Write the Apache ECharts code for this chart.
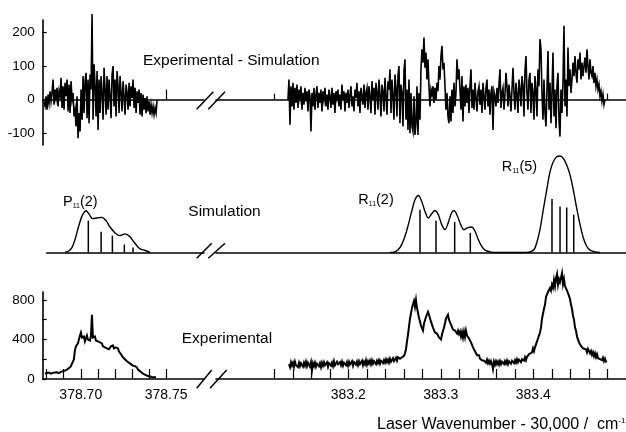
<!DOCTYPE html>
<html>
<head>
<meta charset="utf-8">
<script src="https://cdn.jsdelivr.net/npm/echarts@6/dist/echarts.min.js"></script>
<style>
  html, body { margin: 0; padding: 0; background: #fff; }
  #chart { width: 626px; height: 432px; }
</style>
</head>
<body>
<div id="chart"></div>
<script>
// ---- Wavenumber windows (laser wavenumber - 30,000 cm^-1) ----
const leftWindow = [378.6777, 378.7722];
const midLeftWindow = [378.68, 378.7722];
const rightWindow = [383.057, 383.5002];

// ---- Tick marks and labels ----
const leftTicks = [378.68, 378.69, 378.70, 378.71, 378.72, 378.73, 378.74, 378.75];
const leftLabels = [378.70, 378.75];
const rightTicks = [383.12, 383.14, 383.16, 383.18, 383.20, 383.22, 383.24, 383.26, 383.28, 383.30,
                    383.32, 383.34, 383.36, 383.38, 383.40, 383.42, 383.44, 383.46, 383.48];
const rightLabels = [383.2, 383.3, 383.4];
const residualTicks = [-100, 0, 100, 200];
const intensityTicks = [0, 200, 400, 600, 800];
const intensityLabels = [0, 400, 800];

// ---- Experimental - Simulation (residual), sampled on a uniform grid ----
const resLeftStart = 378.6779, resLeftStep = 0.000586;
const resLeft = [
  0, 5, -20, 10, -30, 15, -10, 25, -5, 20,
  60, -15, 30, 5, 35, -20, 25, 10, 65, -25,
  40, -30, 50, 10, 60, -35, 45, -40, 55, 0,
  20, -50, -30, -80, 10, -115, -40, -95, 30, -60,
  70, -40, 55, 80, -55, 60, -70, 75, 30, 255,
  -60, 105, 40, -50, 85, -90, 60, -40, 70, 20,
  -60, 95, 30, -45, 70, -30, 60, 10, -55, 75,
  100, -20, 60, -50, 85, 40, -40, 70, 20, -35,
  55, 10, -45, 45, 20, -30, 50, -20, 40, 5,
  60, -25, 35, -40, 25, -10, 30, -45, 20, -50,
  15, -30, 5, -40, 10, -35, -5, -45, -15, -40,
  -20, -45, -25, -40, 0
];
const resRightStart = 383.1348, resRightStep = 0.001081;
const resRight = [
  0, 60, -75, 40, -20, 50, -30, 35, -10, 45,
  -25, 30, 5, 40, -30, 20, -15, 35, -5, 25,
  -35, 30, 10, -95, 20, -20, 35, -30, 15, 40,
  -25, 20, -10, 30, -35, 25, 0, 35, -20, 15,
  -30, 30, 10, -25, 35, -15, 20, -40, 25, 5,
  30, -20, 15, -30, 45, 0, 25, -35, 20, -10,
  30, -25, 15, 40, -20, 10, -35, 30, 5, 50,
  -20, 25, -40, 35, 10, -15, 45, -25, 20, 35,
  -30, 40, 10, -40, 55, 0, 35, -45, 50, 20,
  -30, 60, 15, -50, 45, 25, -35, 65, 10, -45,
  55, 30, 90, -40, 60, 10, -60, 75, 35, -50,
  70, 100, -70, 45, 20, -80, 85, 120, -60, 30,
  -90, 60, -100, 20, -80, -95, 10, -105, -70, 40,
  -105, 20, -60, 90, 150, 110, 185, 95, 140, 60,
  120, 40, -20, 30, 15, 40, -10, 35, 0, 50,
  25, 100, 60, 130, 160, 90, 110, 40, -30, 20,
  -50, -70, 10, -65, 30, -40, 50, -20, 20, 120,
  60, 90, 30, -30, 70, -65, 40, -20, 45, -10,
  35, -40, 40, 90, -25, 30, -30, 50, 5, -35,
  25, 40, -15, 30, -40, 50, 10, -30, 35, 60,
  -20, 30, -45, 20, 40, -90, 25, 10, -20, 35,
  -10, 45, 90, -25, 20, 35, -30, 15, 80, 40,
  -20, 45, 10, -35, 30, 95, 20, -30, 50, 15,
  -40, 60, 30, -20, 70, 40, -50, 85, 130, 20,
  -30, 60, 80, -40, 50, 20, -60, 70, 30, -50,
  90, 40, 180, 150, 20, -60, 60, -40, -80, 30,
  145, -30, 50, -70, 20, 140, -50, 30, -85, 40,
  80, -60, -110, 30, -40, 50, 220, -20, 60, -50,
  155, 40, 90, 20, 60, 110, 70, 130, 80, 50,
  120, 90, 140, 60, 110, 70, 100, 125, 80, 150,
  100, 60, 120, 80, 70, 100, 50, 80, 40, 60,
  30, 45, 10, 25, -5, 15, -15, 0
];

// ---- Simulated contours and stick spectra ----
const simLeftX = [378.6908, 378.6927, 378.6947, 378.6966, 378.6982, 378.6996, 378.7011, 378.7031,
                  378.7050, 378.7070, 378.7094, 378.7123, 378.7148, 378.7171, 378.7201, 378.7230,
                  378.7259, 378.7289, 378.7308, 378.7328, 378.7347, 378.7377, 378.7406];
const simLeftY = [0, 1.3, 4.8, 13.4, 23.7, 32.3, 39.2, 43.3,
                  39.2, 35.1, 35.8, 36.4, 33, 26.5, 20.3, 17.5,
                  19.3, 16.2, 11.6, 7.2, 3.8, 2.1, 0];
const p2StickX = [378.7044, 378.7119, 378.7185, 378.7255, 378.7306];
const p2StickY = [33, 21.6, 17.5, 8.2, 5.2];

const simRightX = [383.2450, 383.2505, 383.2541, 383.2577, 383.2613, 383.2649, 383.2685, 383.2721,
                   383.2757, 383.2794, 383.2829, 383.2865, 383.2902, 383.2937, 383.2973, 383.3010,
                   383.3045, 383.3081, 383.3118, 383.3143, 383.3178, 383.3215, 383.3251, 383.3286,
                   383.3334, 383.3370, 383.3405, 383.3442, 383.3478, 383.3532, 383.3600,
                   383.3920, 383.3964, 383.4008, 383.4037, 383.4072, 383.4108, 383.4145, 383.4181,
                   383.4216, 383.4253, 383.4289, 383.4324, 383.4361, 383.4397, 383.4432, 383.4469,
                   383.4505, 383.4541, 383.4577, 383.4613, 383.4667, 383.4720];
const simRightY = [0, 0.7, 3.1, 8.2, 16.8, 28.9, 42.6, 54.6,
                   59.1, 52.9, 42.6, 35.8, 40.2, 43.6, 39.2, 28.9,
                   23.7, 31.2, 41.5, 43.3, 38.1, 28.9, 23.7, 25.5,
                   26.5, 22, 13.4, 6.5, 2.4, 0.7, 0,
                   0, 0.5, 3.1, 10, 23.7, 44.3, 64.9, 83.8,
                   94.1, 99.3, 100, 97.6, 90.7, 80.4, 64.9, 46.1,
                   28.9, 15.1, 6.5, 2.4, 0.7, 0];
const r2StickX = [383.2775, 383.2948, 383.3150, 383.3319];
const r2StickY = [44.3, 33, 31.6, 20.3];
const r5StickX = [383.4202, 383.4289, 383.4361, 383.4437];
const r5StickY = [55.4, 47.7, 46.7, 39.2];

// ---- Experimental spectrum, sampled on a uniform grid ----
const expLeftStart = 378.6790, expLeftStep = 0.000586;
const expLeft = [
  55, 35, 60, 40, 65, 45, 55, 40, 62, 42,
  65, 45, 68, 48, 60, 58, 72, 55, 80, 62,
  85, 70, 95, 80, 110, 100, 130, 125, 175, 200,
  290, 330, 320, 360, 380, 440, 470, 420, 400, 430,
  380, 410, 440, 400, 420, 390, 430, 650, 420, 400,
  430, 390, 410, 380, 400, 370, 350, 360, 330, 340,
  320, 300, 310, 290, 300, 310, 330, 320, 340, 310,
  330, 320, 300, 310, 280, 265, 250, 235, 220, 210,
  200, 190, 180, 175, 165, 160, 150, 145, 135, 130,
  130, 110, 118, 95, 100, 80, 88, 62, 72, 50,
  58, 40, 48, 30, 44, 25, 38, 20, 35, 18,
  30, 20
];
const expRightStart = 383.1359, expRightStep = 0.001081;
const expRight = [
  150, 120, 170, 135, 165, 125, 175, 140, 160, 120,
  165, 130, 160, 170, 125, 165, 135, 175, 130, 165,
  145, 125, 170, 90, 160, 130, 165, 125, 155, 170,
  130, 160, 120, 165, 135, 170, 140, 130, 170, 125,
  160, 170, 135, 165, 130, 180, 140, 135, 175, 150,
  130, 170, 140, 175, 135, 165, 175, 140, 170, 135,
  175, 145, 160, 180, 135, 170, 180, 145, 175, 140,
  180, 150, 165, 185, 140, 175, 150, 190, 145, 180,
  155, 185, 150, 190, 155, 180, 195, 150, 185, 160,
  190, 155, 185, 200, 160, 190, 165, 200, 170, 195,
  165, 205, 175, 190, 210, 180, 195, 215, 185, 220,
  215, 205, 225, 220, 240, 235, 260, 300, 380, 450,
  530, 610, 630, 720, 720, 790, 730, 800, 720, 720,
  620, 610, 540, 550, 490, 560, 560, 630, 620, 680,
  650, 660, 580, 580, 520, 540, 470, 490, 460, 470,
  420, 440, 400, 450, 450, 520, 520, 610, 590, 650,
  600, 620, 550, 560, 500, 520, 490, 510, 460, 490,
  455, 480, 430, 475, 420, 480, 425, 490, 440, 455,
  410, 410, 370, 360, 320, 320, 280, 280, 240, 250,
  240, 205, 220, 190, 200, 185, 190, 165, 195, 160,
  185, 155, 180, 150, 100, 175, 145, 180, 150, 175,
  145, 180, 150, 175, 185, 150, 180, 155, 185, 150,
  180, 190, 155, 185, 195, 160, 190, 165, 200, 170,
  195, 205, 170, 200, 215, 185, 220, 190, 225, 220,
  250, 250, 265, 270, 310, 280, 320, 330, 380, 400,
  440, 470, 520, 610, 630, 710, 750, 830, 830, 880,
  860, 920, 895, 955, 925, 1000, 940, 1020, 1060, 955,
  1010, 980, 980, 1070, 960, 1010, 940, 955, 895, 910,
  840, 810, 750, 710, 640, 600, 520, 490, 430, 420,
  370, 370, 335, 340, 310, 310, 300, 300, 270, 305,
  285, 260, 283, 245, 270, 230, 260, 220, 250, 210,
  225, 200, 216, 190, 215, 180, 205, 175, 180
];

// ---- helpers to turn the arrays into series data ----
function sampled(start, step, values) {
  return values.map((v, i) => [+(start + i * step).toFixed(6), v]);
}
function paired(xs, ys) {
  return xs.map((x, i) => [x, ys[i]]);
}

const INK = '#000';
const FONT = '"Liberation Sans", Arial, sans-serif';

const chart = echarts.init(document.getElementById('chart'), null, { renderer: 'canvas' });

const gridBase = { outerBoundsMode: 'none', containLabel: false, show: false };
const grids = [
  Object.assign({ left: 42.7, top: 20, width: 161.3, height: 125 }, gridBase),   // residual, left window
  Object.assign({ left: 216, top: 20, width: 410, height: 125 }, gridBase),      // residual, right window
  Object.assign({ left: 46.7, top: 156, width: 157.3, height: 96.5 }, gridBase), // simulation, left
  Object.assign({ left: 216, top: 156, width: 410, height: 96.5 }, gridBase),    // simulation, right
  Object.assign({ left: 42.7, top: 292, width: 161.3, height: 87 }, gridBase),   // experimental, left
  Object.assign({ left: 216, top: 292, width: 410, height: 87 }, gridBase)       // experimental, right
];

const axisLine = { show: true, onZero: true, lineStyle: { color: INK, width: 1.6 } };
function xAxis(grid, range, opts) {
  return Object.assign({
    type: 'value', gridIndex: grid, min: range[0], max: range[1],
    axisLine: axisLine, splitLine: { show: false },
    axisTick: { show: false }, axisLabel: { show: false }
  }, opts || {});
}
function tickStyle(values, len) {
  return { show: true, inside: true, length: len, customValues: values, lineStyle: { color: INK, width: 1.2 } };
}

const xAxes = [
  xAxis(0, leftWindow, { axisTick: tickStyle([378.75], 10) }),
  xAxis(1, rightWindow, { axisTick: tickStyle([383.12, 383.48], 6) }),
  xAxis(2, midLeftWindow),
  xAxis(3, rightWindow),
  xAxis(4, leftWindow, {
    axisTick: tickStyle(leftTicks, 10),
    axisLabel: { show: true, customValues: leftLabels, margin: 9, color: INK, fontSize: 14,
                 fontFamily: FONT, formatter: v => v.toFixed(2) }
  }),
  xAxis(5, rightWindow, {
    axisTick: tickStyle(rightTicks, 10),
    axisLabel: { show: true, customValues: rightLabels, margin: 9, color: INK, fontSize: 14,
                 fontFamily: FONT, formatter: v => v.toFixed(1) }
  })
];

function hiddenY(grid, min, max) {
  return { type: 'value', gridIndex: grid, min: min, max: max, show: false, splitLine: { show: false } };
}
const yAxes = [
  {
    type: 'value', gridIndex: 0, min: -135, max: 237, position: 'left',
    axisLine: { show: true, onZero: false, lineStyle: { color: INK, width: 1.6 } },
    axisTick: tickStyle(residualTicks, 4),
    axisLabel: { show: true, customValues: residualTicks, margin: 8, color: INK, fontSize: 13.5, fontFamily: FONT },
    splitLine: { show: false }
  },
  hiddenY(1, -135, 237),
  hiddenY(2, 0, 100),
  hiddenY(3, 0, 100),
  {
    type: 'value', gridIndex: 4, min: 0, max: 880, position: 'left',
    axisLine: { show: true, onZero: false, lineStyle: { color: INK, width: 1.6 } },
    axisTick: tickStyle(intensityTicks, 4),
    axisLabel: { show: true, customValues: intensityLabels, margin: 8, color: INK, fontSize: 13.5, fontFamily: FONT },
    splitLine: { show: false }
  },
  hiddenY(5, 0, 880)
];

function trace(idx, data, width, smooth) {
  return {
    type: 'line', xAxisIndex: idx, yAxisIndex: idx, data: data,
    showSymbol: false, symbol: 'none', smooth: smooth || false, clip: false, animation: false,
    lineStyle: { color: INK, width: width, join: 'miter' }, z: 3
  };
}
function sticks(idx, data) {
  return {
    type: 'bar', xAxisIndex: idx, yAxisIndex: idx, data: data, barWidth: 1.5,
    itemStyle: { color: INK }, animation: false, z: 3
  };
}

const series = [
  trace(0, sampled(resLeftStart, resLeftStep, resLeft), 1.6),
  trace(1, sampled(resRightStart, resRightStep, resRight), 1.6),
  trace(2, paired(simLeftX, simLeftY), 1.4, 0.35),
  sticks(2, paired(p2StickX, p2StickY)),
  trace(3, paired(simRightX, simRightY), 1.4, 0.35),
  sticks(3, paired(r2StickX, r2StickY).concat(paired(r5StickX, r5StickY))),
  trace(4, sampled(expLeftStart, expLeftStep, expLeft), 2),
  trace(5, sampled(expRightStart, expRightStep, expRight), 2)
];

// Axis-break marks and panel annotations
function slash(x1, y1, x2, y2) {
  return { type: 'line', shape: { x1: x1, y1: y1, x2: x2, y2: y2 },
           style: { stroke: INK, lineWidth: 1.5 }, z: 10 };
}
function label(x, y, text, size) {
  return { type: 'text', x: x, y: y, z: 10,
           style: { text: text, fill: INK, font: size + 'px ' + FONT, verticalAlign: 'middle' } };
}
function branchLabel(x, y, letter, sub, tail) {
  return { type: 'text', x: x, y: y, z: 10,
           style: {
             text: '{m|' + letter + '}{s|' + sub + '}{m|' + tail + '}',
             verticalAlign: 'middle', fill: INK,
             rich: {
               m: { fontSize: 14.5, fontFamily: FONT, color: INK },
               s: { fontSize: 7, fontFamily: FONT, color: INK, verticalAlign: 'bottom' }
             }
           } };
}

const graphic = [
  slash(196.7, 109.3, 213.3, 91.7), slash(208.3, 109.3, 225, 91.7),
  slash(196.7, 258.3, 211.7, 243.3), slash(208.3, 258.3, 225, 243.3),
  slash(196.7, 388.3, 211.7, 370), slash(210, 388.3, 226.7, 370),
  label(143, 61, 'Experimental - Simulation', 15.5),
  label(188.3, 212, 'Simulation', 15.5),
  label(181.7, 339, 'Experimental', 15.5),
  branchLabel(63, 202, 'P', '11', '(2)'),
  branchLabel(358.3, 200, 'R', '11', '(2)'),
  branchLabel(501.7, 167, 'R', '11', '(5)'),
  { type: 'text', x: 377, y: 425, z: 10,
    style: {
      text: '{m|Laser Wavenumber - 30,000 /  cm}{s|-1}', verticalAlign: 'middle', fill: INK,
      rich: {
        m: { fontSize: 16, fontFamily: FONT, color: INK },
        s: { fontSize: 8, fontFamily: FONT, color: INK, verticalAlign: 'top' }
      }
    } }
];

chart.setOption({
  backgroundColor: '#fff',
  animation: false,
  grid: grids,
  xAxis: xAxes,
  yAxis: yAxes,
  series: series,
  graphic: graphic
});
</script>
</body>
</html>
